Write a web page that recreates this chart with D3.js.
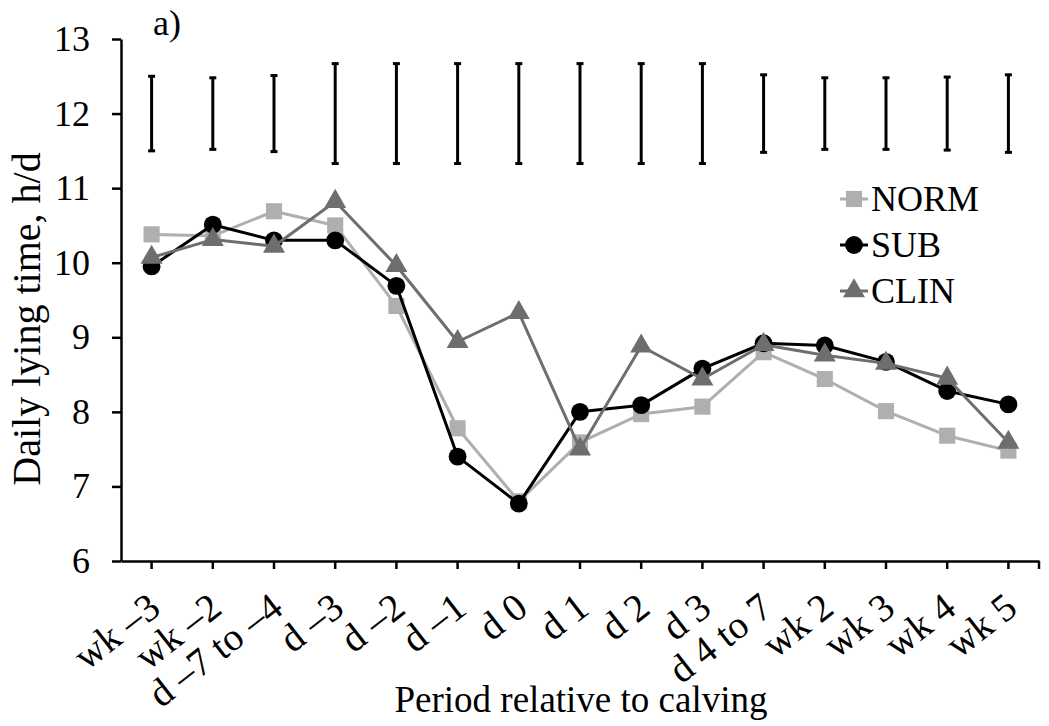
<!DOCTYPE html>
<html><head><meta charset="utf-8">
<script src="https://cdn.jsdelivr.net/npm/d3@7"></script>
<style>body{margin:0;background:#fff}svg{display:block}</style>
</head><body><svg id="c" width="1049" height="726"></svg>
<script>
const categories = ["wk –3","wk –2","d –7 to –4","d –3","d –2","d –1","d 0","d 1","d 2","d 3","d 4 to 7","wk 2","wk 3","wk 4","wk 5"];
const normValues = [10.38,10.36,10.69,10.50,9.42,7.78,6.80,7.59,7.97,8.07,8.80,8.44,8.01,7.68,7.48];
const subValues  = [9.95,10.51,10.30,10.30,9.69,7.40,6.77,8.00,8.09,8.58,8.92,8.89,8.67,8.28,8.10];
const clinValues = [10.07,10.31,10.22,10.82,9.96,8.94,9.33,7.50,8.88,8.44,8.90,8.76,8.65,8.45,7.59];
const errCenter = [12,12,12,12,12,12,12,12,12,12,12,12,12,12,12];
const errHalf = [0.50,0.48,0.51,0.67,0.67,0.67,0.67,0.67,0.67,0.67,0.52,0.48,0.48,0.49,0.52];
const yTicks = [6,7,8,9,10,11,12,13];
const seriesNames = ["NORM","SUB","CLIN"];

const FONT = "'Liberation Serif','Times New Roman',serif";
const series = [
  {name: seriesNames[0], values: normValues, color: "#afafaf", symbol: d3.symbolSquare, size: 260},
  {name: seriesNames[1], values: subValues,  color: "#000000", symbol: d3.symbolCircle, size: 250},
  {name: seriesNames[2], values: clinValues, color: "#6e6e6e", symbol: d3.symbolTriangle, size: 210}
];

const svg = d3.select("#c");
svg.append("rect").attr("width",1049).attr("height",726).attr("fill","#fff");

const x = d3.scaleBand().domain(categories).range([121, 1039]).paddingInner(0).paddingOuter(0);
const y = d3.scaleLinear().domain([6, 13]).range([561, 39]);
const cx = c => x(c) + x.bandwidth()/2;

// axes
const yAxis = d3.axisLeft(y).tickValues(yTicks).tickSize(9).tickSizeOuter(0).tickPadding(22).tickFormat(d3.format("d"));
const gy = svg.append("g").attr("transform","translate(121,0)").call(yAxis);
gy.select(".domain").attr("stroke","#000").attr("stroke-width",2.5);
gy.selectAll(".tick line").attr("stroke","#000").attr("stroke-width",2.5);
gy.selectAll(".tick text").attr("font-family",FONT).attr("font-size",36).attr("fill","#000");

const xAxis = d3.axisBottom(x).tickSize(8).tickSizeOuter(0);
const gx = svg.append("g").attr("transform","translate(0,561)").call(xAxis);
gx.select(".domain").attr("stroke","#000").attr("stroke-width",2.5);
gx.selectAll(".tick line").attr("stroke","#000").attr("stroke-width",2.5);
gx.append("line").attr("x1",x.range()[1]).attr("x2",x.range()[1]).attr("y1",0).attr("y2",8).attr("stroke","#000").attr("stroke-width",2.5);
gx.selectAll(".tick text")
  .attr("font-family",FONT).attr("font-size",39).attr("fill","#000")
  .attr("text-anchor","end").attr("dy",0).attr("y",0)
  .attr("transform","translate(11,51) rotate(-38)");

// error bars
const eb = svg.append("g");
categories.forEach((c,i)=>{
  const xc = cx(c), y1 = y(errCenter[i]+errHalf[i]), y2 = y(errCenter[i]-errHalf[i]);
  eb.append("line").attr("x1",xc).attr("x2",xc).attr("y1",y1).attr("y2",y2).attr("stroke","#000").attr("stroke-width",3);
  [y1,y2].forEach(yy=>eb.append("line").attr("x1",xc-3.5).attr("x2",xc+3.5).attr("y1",yy).attr("y2",yy).attr("stroke","#000").attr("stroke-width",3));
});

// series
const line = d3.line().x((d,i)=>cx(categories[i])).y(d=>y(d));
series.forEach(s=>{
  const g = svg.append("g");
  g.append("path").datum(s.values).attr("d",line).attr("fill","none").attr("stroke",s.color).attr("stroke-width",3).attr("stroke-linejoin","round");
  g.selectAll("path.m").data(s.values).join("path").attr("class","m")
    .attr("d",d3.symbol().type(s.symbol).size(s.size))
    .attr("transform",(d,i)=>`translate(${cx(categories[i])},${y(d)})`)
    .attr("fill",s.color);
});

// legend
const lg = svg.append("g").attr("transform","translate(840,199)");
series.forEach((s,i)=>{
  const r = lg.append("g").attr("transform",`translate(0,${i*46})`);
  r.append("line").attr("x1",0).attr("x2",28).attr("y1",0).attr("y2",0).attr("stroke",s.color).attr("stroke-width",3);
  r.append("path").attr("d",d3.symbol().type(s.symbol).size(s.size)).attr("transform","translate(14,0)").attr("fill",s.color);
  r.append("text").attr("x",31).attr("y",12).attr("font-family",FONT).attr("font-size",36).attr("fill","#000").text(s.name);
});

// titles
svg.append("text").attr("x",153).attr("y",35).attr("font-family",FONT).attr("font-size",36).attr("fill","#000").text("a)");
svg.append("text").attr("transform","translate(40,319) rotate(-90)").attr("text-anchor","middle")
  .attr("font-family",FONT).attr("font-size",40).attr("fill","#000").text("Daily lying time, h/d");
svg.append("text").attr("x",581).attr("y",712).attr("text-anchor","middle")
  .attr("font-family",FONT).attr("font-size",37).attr("fill","#000").text("Period relative to calving");
</script></body></html>
